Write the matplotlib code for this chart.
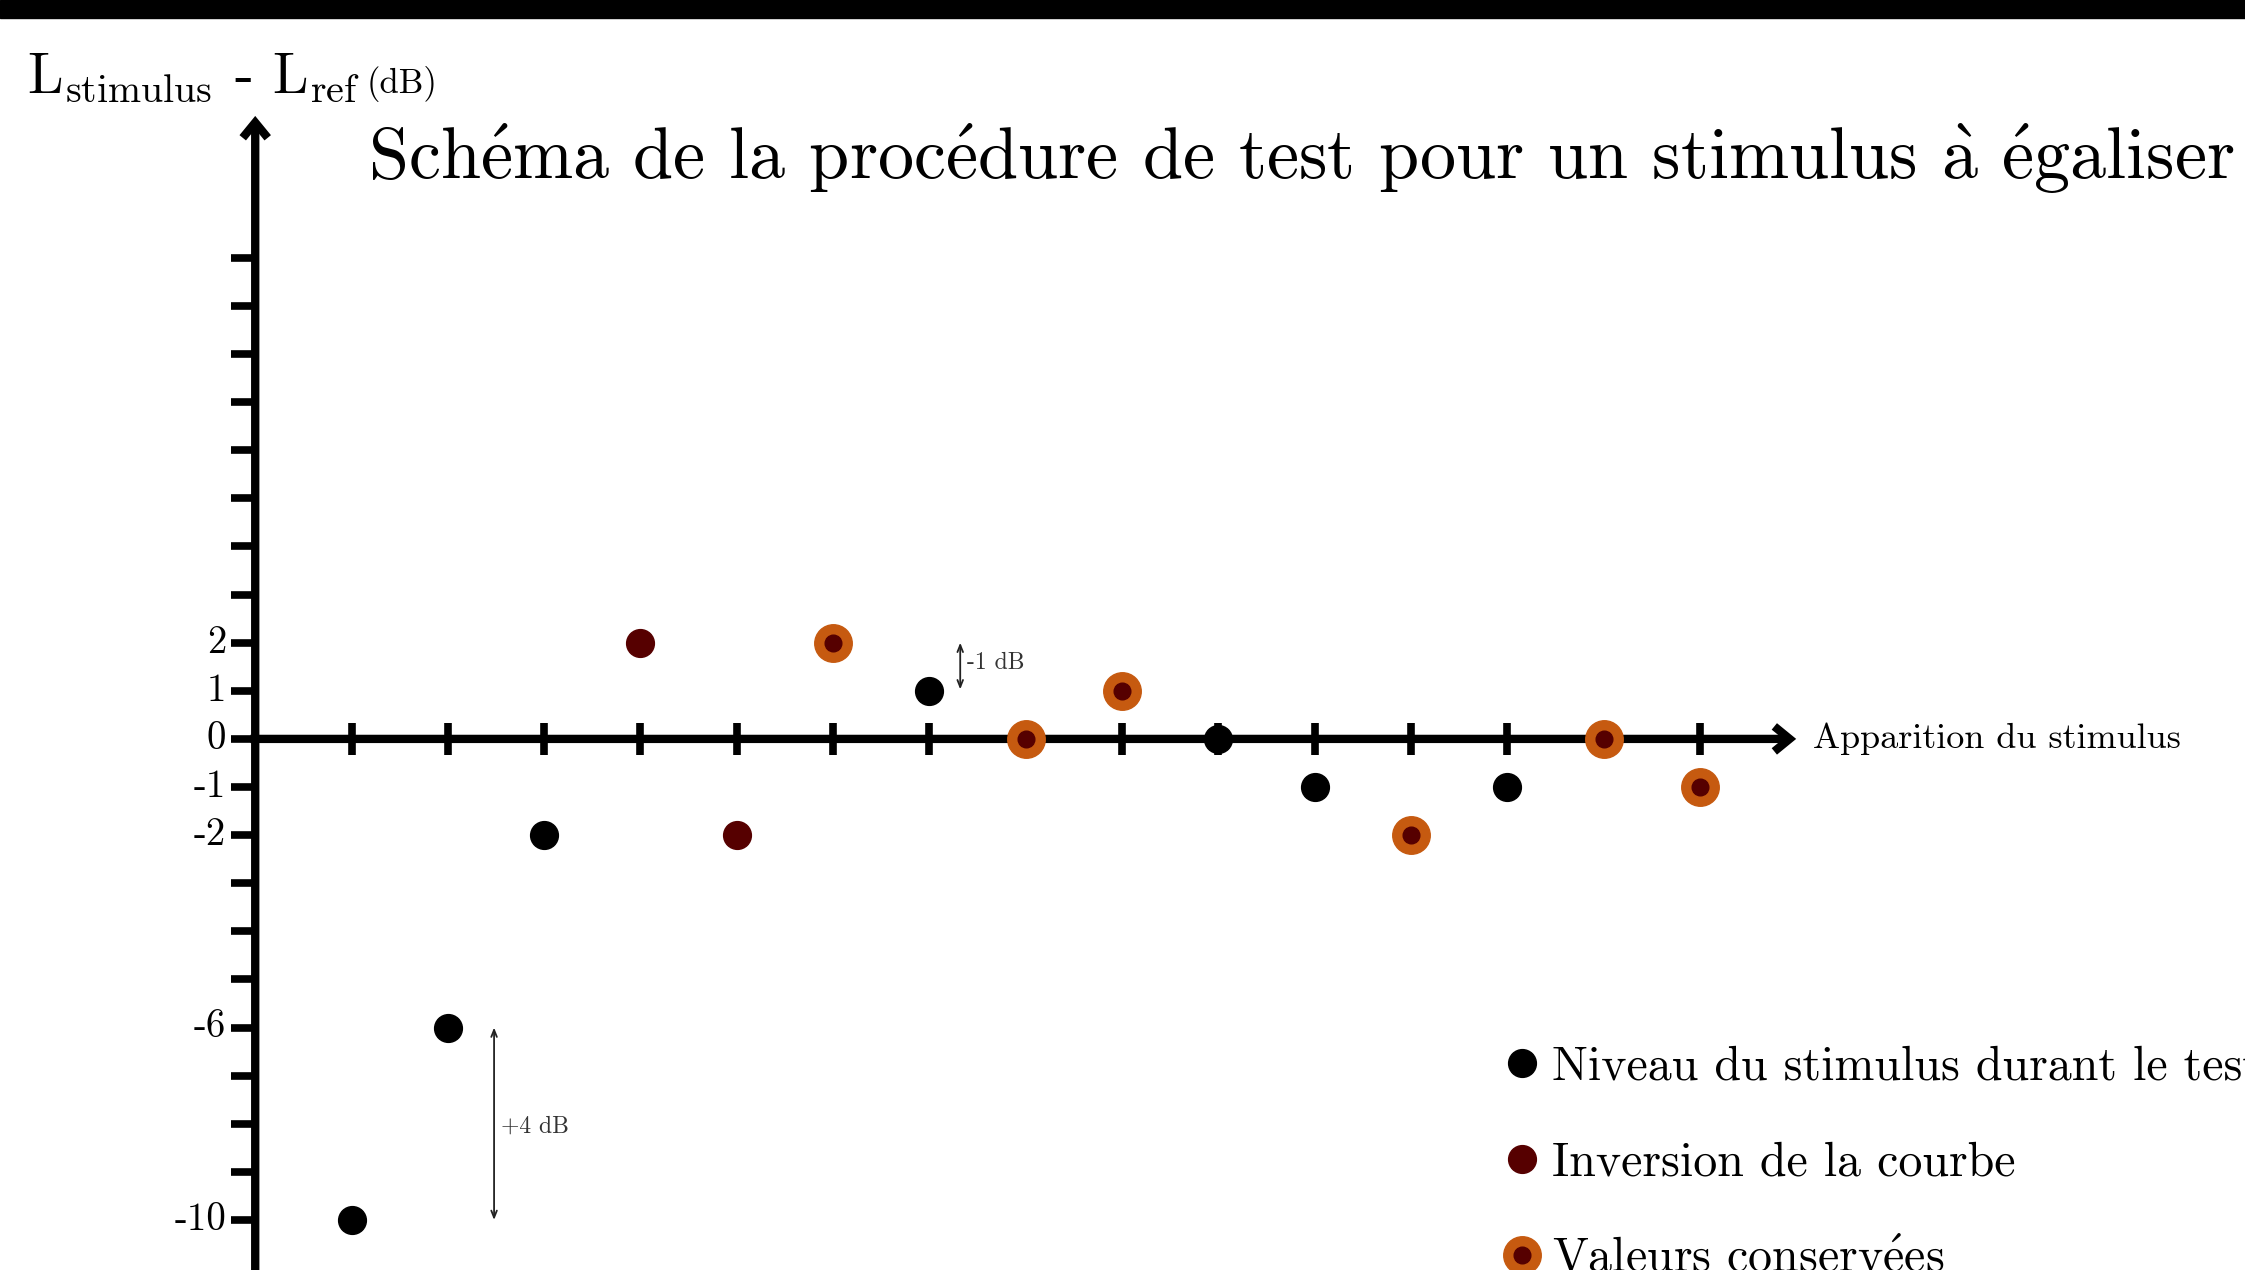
import matplotlib
matplotlib.use("Agg")
import matplotlib.pyplot as plt
from matplotlib.lines import Line2D

plt.rcParams['font.family'] = ['cmr10', 'DejaVu Serif']
plt.rcParams['mathtext.fontset'] = 'cm'
plt.rcParams['axes.unicode_minus'] = False

# stimulus presentations and level difference (dB)
presentation = list(range(1, 16))
level = [-10, -6, -2, 2, -2, 2, 1, 0, 1, 0, -1, -2, -1, 0, -1]
# 'n' = plain level, 'i' = curve inversion, 'k' = kept value
kind = ['n', 'n', 'n', 'i', 'i', 'k', 'n', 'k', 'k', 'n', 'n', 'k', 'n', 'k', 'k']

y_ticks = list(range(-10, 11))
y_labels = {2: '2', 1: '1', 0: '0', -1: '-1', -2: '-2', -6: '-6', -10: '-10'}

# accents through mathtext, cmr10 has no precomposed é / à
E = r'$\acute{\mathrm{e}}$'
A = r'$\grave{\mathrm{a}}$'
title = f"Sch{E}ma de la proc{E}dure de test pour un stimulus {A} {E}galiser"
legend_labels = ["Niveau du stimulus durant le test", "Inversion de la courbe",
                 f"Valeurs conserv{E}es"]

dark_red = '#560000'
orange = '#c65a10'

fig = plt.figure(figsize=(22.45, 12.70), dpi=100)
ax = fig.add_axes([0, 0, 1, 1])
ax.set_xlim(-2.65, 20.66)
ax.set_ylim(-11.04, 15.36)
ax.axis('off')

# top black band
fig.patches.append(plt.Rectangle((0, 0.986), 1, 0.014, transform=fig.transFigure,
                                 color='black', zorder=10))

# axes with arrows
arrow_kw = dict(arrowstyle='->,head_length=1.1,head_width=0.9', lw=6, color='black',
                shrinkA=0, shrinkB=0, capstyle='butt', joinstyle='miter')
ax.annotate('', xy=(16.0, 0), xytext=(-0.05, 0), arrowprops=arrow_kw, zorder=2)
ax.annotate('', xy=(0, 12.95), xytext=(0, -12), arrowprops=arrow_kw, zorder=2)

# ticks
for x in presentation:
    ax.plot([x, x], [-0.33, 0.33], color='black', lw=5.5, solid_capstyle='butt', zorder=2)
for y in y_ticks:
    ax.plot([-0.25, 0], [y, y], color='black', lw=5.5, solid_capstyle='butt', zorder=2)
    if y in y_labels:
        ax.text(-0.3, y, y_labels[y], ha='right', va='center', fontsize=28)

# points
for x, y, k in zip(presentation, level, kind):
    if k == 'n':
        ax.plot(x, y, 'o', color='black', ms=20, zorder=3)
    elif k == 'i':
        ax.plot(x, y, 'o', color=dark_red, ms=20, zorder=3)
    else:
        ax.plot(x, y, 'o', color=orange, ms=27, zorder=3)
        ax.plot(x, y, 'o', color=dark_red, ms=12, zorder=4)

# step annotations
thin = dict(arrowstyle='<->,head_length=0.5,head_width=0.2', lw=1.3, color='#222222',
            shrinkA=0, shrinkB=0)
ax.annotate('', xy=(2.48, -10), xytext=(2.48, -6), arrowprops=thin)
ax.text(2.55, -8.05, '+4 dB', fontsize=17, color='#333333', ha='left', va='center')
ax.annotate('', xy=(7.32, 1.03), xytext=(7.32, 2.0), arrowprops=thin)
ax.text(7.39, 1.57, '-1 dB', fontsize=17, color='#333333', ha='left', va='center')

# axis labels and title
ax.text(16.17, 0, 'Apparition du stimulus', fontsize=26, ha='left', va='center')
label_base = 0.927
t1 = fig.text(0.012, label_base, r'$\mathrm{L}_{\mathrm{stimulus}}$ - $\mathrm{L}_{\mathrm{ref}}$',
              fontsize=41, ha='left', va='baseline')
ax.annotate('(dB)', xy=(1, label_base), xycoords=(t1, 'figure fraction'),
            xytext=(5, 0), textcoords='offset points',
            fontsize=25, ha='left', va='baseline')
fig.text(0.164, 0.859, title, fontsize=52, ha='left', va='baseline')

# legend
handles = [
    Line2D([], [], ls='', marker='o', color='black', ms=20),
    Line2D([], [], ls='', marker='o', color=dark_red, ms=20),
    (Line2D([], [], ls='', marker='o', color=orange, ms=27),
     Line2D([], [], ls='', marker='o', color=dark_red, ms=12)),
]
ax.legend(handles, legend_labels, loc='upper left', bbox_to_anchor=(0.661, 0.196),
          bbox_transform=fig.transFigure, frameon=False, fontsize=34.5,
          handlelength=0.6, handletextpad=0.33, labelspacing=1.08, borderpad=0)

fig.savefig('out.png', dpi=100)
